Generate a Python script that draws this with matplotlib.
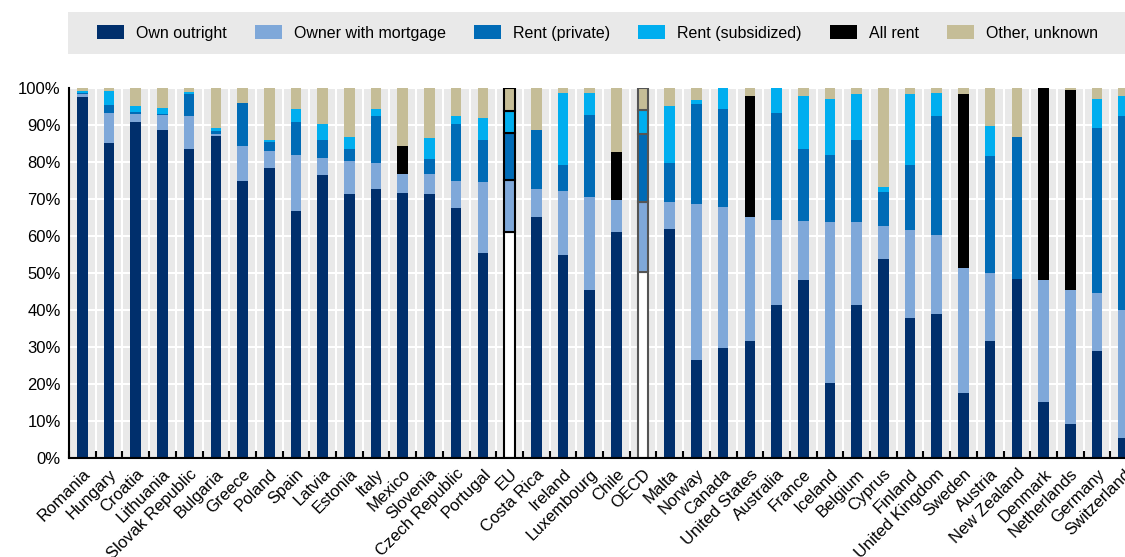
import matplotlib.pyplot as plt
from matplotlib.patches import Rectangle
import numpy as np

plt.rcParams['font.family'] = ['Liberation Sans', 'DejaVu Sans']

countries = ["Romania", "Hungary", "Croatia", "Lithuania", "Slovak Republic", "Bulgaria",
             "Greece", "Poland", "Spain", "Latvia", "Estonia", "Italy", "Mexico", "Slovenia",
             "Czech Republic", "Portugal", "EU", "Costa Rica", "Ireland", "Luxembourg", "Chile",
             "OECD", "Malta", "Norway", "Canada", "United States", "Australia", "France",
             "Iceland", "Belgium", "Cyprus", "Finland", "United Kingdom", "Sweden", "Austria",
             "New Zealand", "Denmark", "Netherlands", "Germany", "Switzerland"]

own_outright = [97.7, 85.2, 90.8, 88.7, 83.5, 87.0, 75.0, 78.3, 66.8, 76.5, 71.3, 72.8, 71.6, 71.3,
                67.7, 55.3, 61.0, 65.2, 54.9, 45.3, 61.2, 50.2, 61.9, 26.6, 29.6, 31.7, 41.4, 48.1,
                20.3, 41.4, 53.8, 37.9, 39.0, 17.6, 31.7, 48.4, 15.1, 9.2, 29.0, 5.3]
owner_mortgage = [0.6, 8.0, 2.2, 3.9, 8.9, 0.6, 9.2, 4.6, 15.1, 4.6, 9.0, 6.9, 5.2, 5.4,
                  7.1, 19.2, 14.2, 7.5, 17.3, 25.3, 8.4, 19.0, 7.2, 42.1, 38.2, 33.5, 22.9, 15.9,
                  43.5, 22.4, 8.8, 23.8, 21.3, 33.7, 18.2, 0.0, 33.0, 36.2, 15.6, 34.8]
rent_private = [0.3, 2.3, 0.6, 0.3, 6.1, 0.8, 11.7, 2.4, 9.0, 4.9, 3.3, 12.6, 0.0, 4.1,
                15.6, 11.5, 12.6, 16.0, 7.0, 22.1, 0.0, 18.4, 10.5, 27.1, 26.5, 0.0, 29.0, 19.6,
                18.2, 22.2, 9.4, 17.5, 32.1, 0.0, 31.7, 38.4, 0.0, 0.0, 44.7, 52.3]
rent_subsidized = [0.5, 3.7, 1.5, 1.7, 0.5, 0.9, 0.1, 0.7, 3.3, 4.4, 3.2, 2.0, 0.0, 5.8,
                   2.0, 5.9, 5.9, 0.0, 19.4, 5.9, 0.0, 6.4, 15.5, 1.0, 5.7, 0.0, 6.7, 14.3,
                   15.0, 12.5, 1.3, 19.3, 6.3, 0.0, 8.2, 0.0, 0.0, 0.0, 7.7, 5.5]
all_rent = [0, 0, 0, 0, 0, 0, 0, 0, 0, 0, 0, 0, 7.4, 0,
            0, 0, 0, 0, 0, 0, 13.1, 0, 0, 0, 0, 32.6, 0, 0,
            0, 0, 0, 0, 0, 47.0, 0, 0, 51.9, 54.0, 0, 0]
other_unknown = [0.9, 0.8, 4.9, 5.4, 1.0, 10.7, 4.0, 14.0, 5.8, 9.6, 13.2, 5.7, 15.8, 13.4,
                 7.6, 8.1, 6.3, 11.3, 1.4, 1.4, 17.3, 6.0, 4.9, 3.2, 0.0, 2.2, 0.0, 2.1,
                 3.0, 1.5, 26.7, 1.5, 1.3, 1.7, 10.2, 13.2, 0.0, 0.6, 3.0, 2.1]

series = [("Own outright", own_outright, "#002f6c"),
          ("Owner with mortgage", owner_mortgage, "#7fa8d9"),
          ("Rent (private)", rent_private, "#006bb6"),
          ("Rent (subsidized)", rent_subsidized, "#00aeef"),
          ("All rent", all_rent, "#000000"),
          ("Other, unknown", other_unknown, "#c5bd97")]

W, H = 1125, 557
fig = plt.figure(figsize=(W / 100, H / 100), dpi=100)
# right edge goes a bit past the figure, the reference is cropped there
ax = fig.add_axes([69 / W, (H - 458) / H, (1137 - 69) / W, (458 - 88) / H])
ax.set_facecolor("#e9e9e9")

x = np.arange(len(countries))
bottom = np.zeros(len(countries))
for name, vals, color in series:
    vals = np.array(vals, dtype=float)
    bars = ax.bar(x, vals, 0.4, bottom=bottom, color=color, label=name, zorder=3, linewidth=0)
    # EU / OECD aggregates are drawn with outlined segments, own outright left white
    for i, b in enumerate(bars):
        if countries[i] in ("EU", "OECD") and vals[i] > 0:
            edge = "black" if countries[i] == "EU" else "#555555"
            b.set_edgecolor(edge)
            b.set_linewidth(1.5)
            if name == "Own outright":
                b.set_facecolor("white")
    bottom += vals

ax.set_xlim(-0.5, len(countries) - 0.5)
ax.set_ylim(0, 100)
ax.set_yticks(np.arange(0, 101, 10))
ax.set_yticklabels([f"{v}%" for v in range(0, 101, 10)], fontsize=12)
ax.tick_params(axis="y", length=0, pad=6)

ax.set_xticks(x)
ax.set_xticklabels(countries, rotation=45, ha="right", rotation_mode="anchor", fontsize=12)
ax.tick_params(axis="x", which="major", length=0, pad=6)
ax.set_xticks(np.arange(-0.5, len(countries), 1), minor=True)
ax.tick_params(axis="x", which="minor", direction="in", length=5, width=1.5, color="black")

ax.grid(axis="y", color="white", linewidth=1.5, zorder=1)
ax.grid(axis="x", which="minor", color="white", linewidth=1.5, zorder=1)
ax.set_axisbelow(True)

for s in ["top", "right"]:
    ax.spines[s].set_visible(False)
for s in ["left", "bottom"]:
    ax.spines[s].set_linewidth(1.5)
    ax.spines[s].set_zorder(5)

# legend sits on a gray band running off the right edge
fig.patches.append(Rectangle((68 / W, (H - 54) / H), 1 - 68 / W, 42 / H,
                             transform=fig.transFigure, facecolor="#e9e9e9",
                             edgecolor="none", zorder=0))
handles, labels = ax.get_legend_handles_labels()
leg = fig.legend(handles, labels, loc="center left", ncol=6,
                 bbox_to_anchor=(97 / W, (H - 33) / H), borderaxespad=0, borderpad=0,
                 fontsize=11.5, frameon=False, handlelength=1.7, handleheight=1.0,
                 handletextpad=0.75, columnspacing=1.75)

fig.savefig("out.png", dpi=100)
